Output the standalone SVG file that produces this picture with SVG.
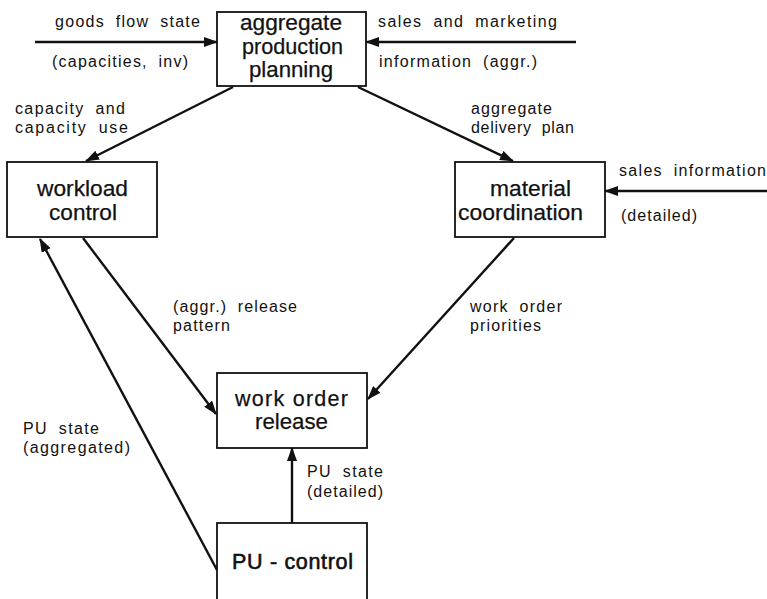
<svg xmlns="http://www.w3.org/2000/svg" width="767" height="599" viewBox="0 0 767 599">
<style>
.box{fill:#fff;stroke:#111;stroke-width:1.8}
.nt{font-family:"Liberation Sans",Arial,sans-serif;font-size:21.5px;fill:#111;stroke:#111;stroke-width:0.25}
.lt{font-family:"Liberation Sans",Arial,sans-serif;font-size:16px;word-spacing:5px;fill:#111}
.c{fill:none;stroke:#111;stroke-width:2.4}
</style>
<defs>
<marker id="ah" markerUnits="userSpaceOnUse" markerWidth="14" markerHeight="10" refX="13" refY="5" orient="auto">
<path d="M0,0 L14,5 L0,10 Z" fill="#111"/>
</marker>
</defs>
<rect width="767" height="599" fill="#fff"/>
<g id="connectors">
<line class="c" x1="35" y1="42" x2="217" y2="42" marker-end="url(#ah)"/>
<line class="c" x1="576" y1="42" x2="366" y2="42" marker-end="url(#ah)"/>
<line class="c" x1="233" y1="87" x2="86" y2="161" marker-end="url(#ah)"/>
<line class="c" x1="358" y1="87" x2="513" y2="161" marker-end="url(#ah)"/>
<line class="c" x1="767" y1="191" x2="605" y2="191" marker-end="url(#ah)"/>
<line class="c" x1="83" y1="238" x2="216" y2="414" marker-end="url(#ah)"/>
<line class="c" x1="514" y1="238" x2="368" y2="399" marker-end="url(#ah)"/>
<line class="c" x1="292" y1="523" x2="292" y2="448" marker-end="url(#ah)"/>
<line class="c" x1="217" y1="570" x2="40" y2="239" marker-end="url(#ah)"/>
<text class="lt" x="55" y="27" textLength="145" lengthAdjust="spacing">goods flow state</text>
<text class="lt" x="52" y="67" textLength="136" lengthAdjust="spacing">(capacities, inv)</text>
<text class="lt" x="378" y="27" textLength="179" lengthAdjust="spacing">sales and marketing</text>
<text class="lt" x="379" y="67" textLength="158" lengthAdjust="spacing">information (aggr.)</text>
<text class="lt" x="15" y="114" textLength="110" lengthAdjust="spacing">capacity and</text>
<text class="lt" x="15" y="133" textLength="113" lengthAdjust="spacing">capacity use</text>
<text class="lt" x="471" y="114" textLength="81" lengthAdjust="spacing">aggregate</text>
<text class="lt" x="471" y="133" textLength="103" lengthAdjust="spacing">delivery plan</text>
<text class="lt" x="619" y="176" textLength="147" lengthAdjust="spacing">sales information</text>
<text class="lt" x="621" y="221" textLength="76" lengthAdjust="spacing">(detailed)</text>
<text class="lt" x="173" y="312" textLength="124" lengthAdjust="spacing">(aggr.) release</text>
<text class="lt" x="173" y="331" textLength="57" lengthAdjust="spacing">pattern</text>
<text class="lt" x="470" y="312" textLength="92" lengthAdjust="spacing">work order</text>
<text class="lt" x="470" y="331" textLength="71" lengthAdjust="spacing">priorities</text>
<text class="lt" x="23" y="434" textLength="76" lengthAdjust="spacing">PU state</text>
<text class="lt" x="23" y="453" textLength="107" lengthAdjust="spacing">(aggregated)</text>
<text class="lt" x="307" y="477" textLength="76" lengthAdjust="spacing">PU state</text>
<text class="lt" x="307" y="497" textLength="76" lengthAdjust="spacing">(detailed)</text>
</g>
<g id="app">
<rect class="box" x="217" y="12" width="149" height="74"/>
<text class="nt" x="240" y="30" textLength="102" lengthAdjust="spacingAndGlyphs">aggregate</text>
<text class="nt" x="242" y="54" textLength="101" lengthAdjust="spacingAndGlyphs">production</text>
<text class="nt" x="249" y="77" textLength="84" lengthAdjust="spacingAndGlyphs">planning</text>
</g>
<g id="workload">
<rect class="box" x="7" y="162" width="150" height="75"/>
<text class="nt" x="37" y="196" textLength="91" lengthAdjust="spacingAndGlyphs">workload</text>
<text class="nt" x="49" y="220" textLength="68" lengthAdjust="spacingAndGlyphs">control</text>
</g>
<g id="material">
<rect class="box" x="455" y="162" width="150" height="75"/>
<text class="nt" x="490" y="196" textLength="81" lengthAdjust="spacingAndGlyphs">material</text>
<text class="nt" x="458" y="220" textLength="125" lengthAdjust="spacingAndGlyphs">coordination</text>
</g>
<g id="release">
<rect class="box" x="217" y="373" width="150" height="75"/>
<text class="nt" x="235" y="406" textLength="113" lengthAdjust="spacing">work order</text>
<text class="nt" x="255" y="429" textLength="73" lengthAdjust="spacingAndGlyphs">release</text>
</g>
<g id="pucontrol">
<rect class="box" x="217" y="523" width="150" height="80"/>
<text class="nt" x="232" y="569" textLength="121" lengthAdjust="spacing" style="stroke-width:0.6">PU - control</text>
</g>
</svg>
